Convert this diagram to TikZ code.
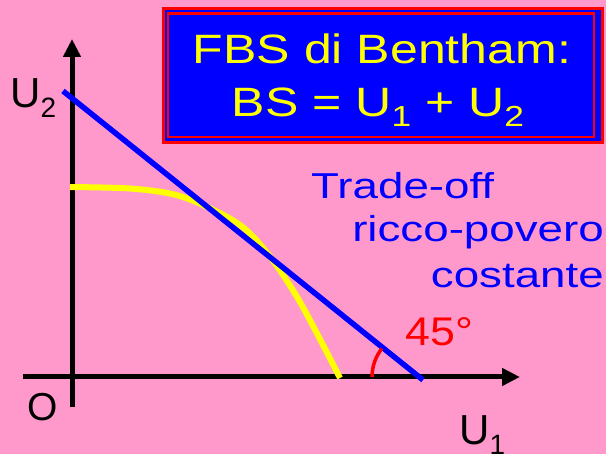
\documentclass[tikz,border=0pt]{standalone}
\usepackage{fontspec}
\setmainfont{Liberation Sans}
\newfontfamily\titlefont[FakeStretch=1.22]{Liberation Sans}
\newfontfamily\notefont[FakeStretch=1.27]{Liberation Sans}
\newfontfamily\labfont{Liberation Sans}
\newfontfamily\anglefont[FakeStretch=1.12]{Liberation Sans}
\usetikzlibrary{arrows.meta}
\definecolor{bgpink}{RGB}{255,153,204}
\definecolor{ttlblue}{RGB}{0,0,255}
\definecolor{ttlyellow}{RGB}{255,255,0}
\newcommand{\sbs}[2]{\raisebox{-10pt}{\fontsize{#1}{#1}\selectfont #2}}
\tikzset{
  axisline/.style={line width=5pt, -{Triangle[length=18pt,width=17pt]}},
  titletext/.style={text=ttlyellow, inner sep=0pt, font=\titlefont\fontsize{41}{41}\selectfont},
  notetext/.style={text=ttlblue, inner sep=0pt, font=\notefont\fontsize{36}{36}\selectfont},
  labtext/.style={text=black, inner sep=0pt, font=\labfont\fontsize{42}{42}\selectfont},
}
\begin{document}
\begin{tikzpicture}[x=1pt,y=-1pt]
\fill[bgpink] (0,0) rectangle (606,454);
\useasboundingbox (0,0) rectangle (606,454);
% title box
\fill[ttlblue] (162,7) rectangle (604,144);
\draw[red, line width=3pt] (163.5,8.5) rectangle (602.5,142.5);
\draw[red, line width=2.5pt] (168,13.5) rectangle (594,137);
\node[titletext, anchor=base] (t1) at (382,64) {FBS di Bentham:};
\node[titletext, anchor=base] (t2) at (378,117) {BS = U\sbs{29}{1} + U\sbs{29}{2}};
% axes
\coordinate (ybot) at (72,407);
\coordinate (ytop) at (72,39);
\coordinate (xleft) at (23,377);
\coordinate (xright) at (520,377);
\draw[axisline] (ybot) -- (ytop);
\draw[axisline] (xleft) -- (xright);
% yellow frontier
\draw[ttlyellow, line width=6pt] plot[smooth, tension=0.55] coordinates
  {(70,187) (130,188.5) (172,194) (203,205) (240,225) (268,254) (300,302) (340,378)};
% blue line
\coordinate (b1) at (63,91);
\coordinate (b2) at (423,380);
\draw[ttlblue, line width=5.5pt] (b1) -- (b2);
% 45 degree arc
\draw[red, line width=3.5pt] (372,377) arc[start angle=180, end angle=218, radius=46];
% labels
\node[labtext, anchor=base west] (u2) at (10,108) {U\sbs{28}{2}};
\node[labtext, anchor=base west] (u1) at (459,445) {U\sbs{28}{1}};
\node[labtext, anchor=base west, font=\labfont\fontsize{39}{39}\selectfont] (o) at (27,421) {O};
\node[text=red, inner sep=0pt, anchor=base west, font=\anglefont\fontsize{40}{40}\selectfont] (deg) at (405,346) {45°};
\node[notetext, anchor=base west] (n1) at (311,199) {Trade-off};
\node[notetext, anchor=base east] (n2) at (604,242) {ricco-povero};
\node[notetext, anchor=base east] (n3) at (604,288) {costante};
\end{tikzpicture}
\end{document}
